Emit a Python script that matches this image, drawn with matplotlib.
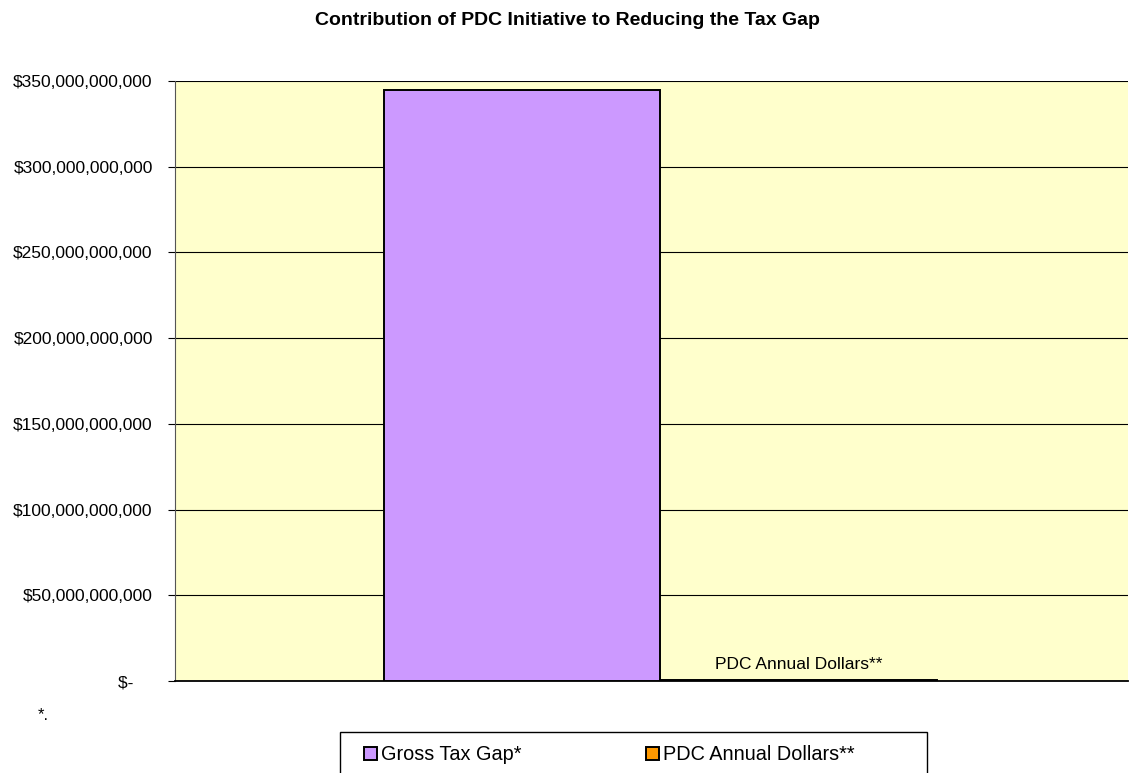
import matplotlib.pyplot as plt
from matplotlib.patches import Rectangle
from matplotlib.ticker import FuncFormatter

plt.rcParams['font.family'] = ['Liberation Sans', 'DejaVu Sans']

series = ["Gross Tax Gap*", "PDC Annual Dollars**"]
values = [345e9, 0.6e9]
colors = ["#cc99ff", "#ff9900"]
yticks = [0, 50e9, 100e9, 150e9, 200e9, 250e9, 300e9, 350e9]


def money(v, pos):
    # accounting style: zero shown as a dash, padded on the right
    if v == 0:
        return "$-    "
    return "${:,.0f}".format(v)


fig = plt.figure(figsize=(11.34, 7.73), dpi=100)
ax = fig.add_axes([0.1543, 0.119, 0.8404, 0.7762])
ax.set_facecolor("#ffffcc")

for i, (name, v, c) in enumerate(zip(series, values, colors)):
    ax.bar(i, v, width=1.0, color=c, edgecolor="black", linewidth=1.4,
           label=name, zorder=3)

# data label over the small bar
ax.text(1, values[1] + 4.5e9, series[1], ha="center", va="bottom",
        fontsize=12.5, zorder=4)

ax.set_xlim(-1.256, 2.191)
ax.set_ylim(0, 350e9)
ax.set_yticks(yticks)
ax.yaxis.set_major_formatter(FuncFormatter(money))
ax.set_xticks([])
ax.grid(axis="y", color="black", linewidth=0.8, zorder=1)
ax.tick_params(axis="y", direction="out", length=5, width=0.8,
               labelsize=12.5, pad=11)
for s in ["top", "right"]:
    ax.spines[s].set_visible(False)
ax.spines["left"].set_color("#555555")
ax.spines["bottom"].set_color("black")
ax.spines["bottom"].set_linewidth(1.3)

fig.text(0.5, 0.973, "Contribution of PDC Initiative to Reducing the Tax Gap",
         ha="center", va="center", fontsize=14, fontweight="bold")
fig.text(0.033, 0.075, "*.", fontsize=12, ha="left", va="center")

# legend box running off the bottom edge
fig.patches.append(Rectangle((340 / 1134, -0.05), 587 / 1134, 0.103,
                             transform=fig.transFigure, facecolor="white",
                             edgecolor="black", linewidth=1.0))
fig.legend(loc="center left", bbox_to_anchor=(346 / 1134, 0.0235),
           ncol=2, frameon=False, fontsize=14.3, handlelength=0.65,
           handleheight=0.65, handletextpad=0.2, columnspacing=6.3)

fig.savefig("out.png", dpi=100)
